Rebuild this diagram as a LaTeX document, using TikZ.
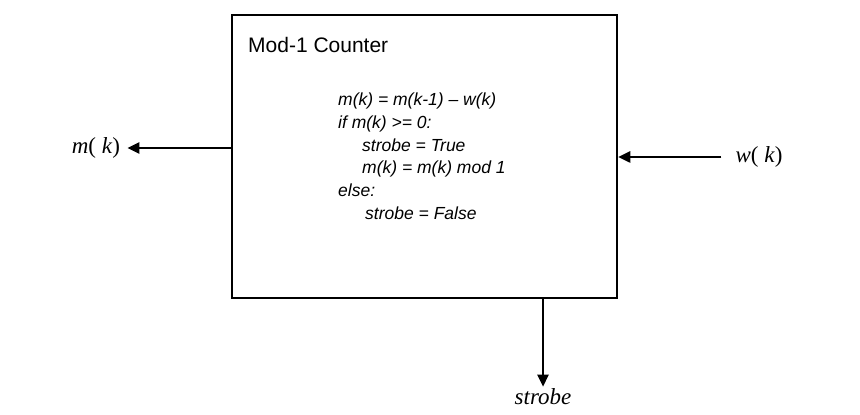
\documentclass[tikz,border=0pt]{standalone}
\usepackage{fontspec}
\setmainfont{Liberation Serif}
\newfontfamily\boxfont{Liberation Sans}
\usetikzlibrary{arrows.meta}

\begin{document}
\begin{tikzpicture}[x=1pt,y=1pt,
    signal/.style={line width=2.5pt, -{Triangle[length=12pt,width=11pt]}},
    lbl/.style={font=\fontsize{23}{26}\selectfont\itshape, inner sep=0pt}]
\useasboundingbox (0,0) rectangle (860,415);
\def\W{385}
\def\H{283}

\node[draw, line width=2.5pt, minimum width=\W pt, minimum height=\H pt, inner sep=0pt] (counter) at (424.5,258.5) {};

\node[anchor=base west, inner sep=0pt, font=\boxfont\fontsize{21}{24}\selectfont] (title) at (248,362) {Mod-1 Counter};

\node[anchor=north west, align=left, inner sep=0pt, font=\boxfont\itshape\fontsize{17.5}{22.7}\selectfont] (rule) at (338,322)
  {m(k) = m(k-1) – w(k)\\
   if m(k) >= 0:\\
   \hspace{24pt}strobe = True\\
   \hspace{24pt}m(k) = m(k) mod 1\\
   else:\\
   \hspace{27pt}strobe = False};

\node[lbl] (mk) at (96,267) {m\textup{(} k\textup{)}};
\node[lbl] (wk) at (759,258) {w\textup{(} k\textup{)}};
\node[lbl] (strobe) at (543,18) {strobe};

\draw[signal, shorten >=7pt] (counter.west |- mk) -- (mk.east);
\draw[signal, shorten <=14pt] (wk.west) -- (counter.east |- wk);
\draw[signal, shorten >=2pt] (counter.south -| strobe) -- (strobe.north);
\end{tikzpicture}
\end{document}
